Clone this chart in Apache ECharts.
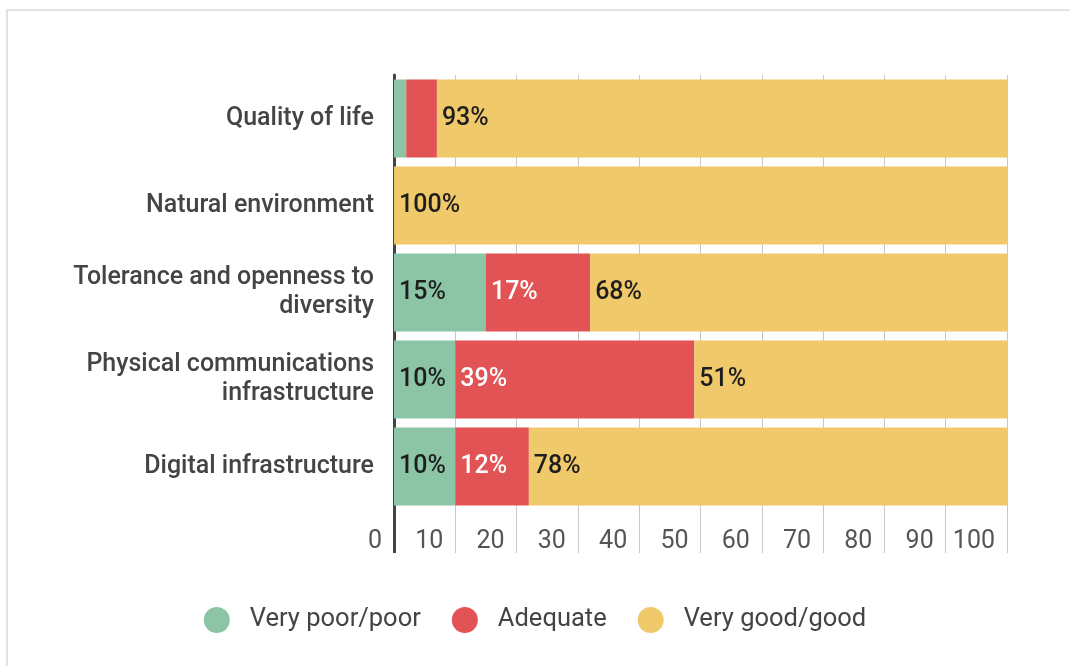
<!DOCTYPE html>
<html>
<head>
<meta charset="utf-8">
<title>Perceived quality of regional assets</title>
<script src="https://cdn.jsdelivr.net/npm/echarts@6/dist/echarts.min.js"></script>
<style>
  html, body { margin: 0; padding: 0; background: #fff; overflow: hidden; }
  #frame { position: absolute; left: 6px; top: 9px; width: 1100px; height: 700px; border: 2px solid #e3e3e3; box-sizing: border-box; }
  #chart { position: absolute; left: 0; top: 0; width: 1070px; height: 666px; }
</style>
</head>
<body>
<div id="frame"></div>
<div id="chart"></div>
<script>
// Survey categories, listed top to bottom
const categories = [
  'Quality of life',
  'Natural environment',
  'Tolerance and openness to\ndiversity',
  'Physical communications\ninfrastructure',
  'Digital infrastructure'
];
// Share of responses per rating (%)
const veryPoorPoor = [2, 0, 15, 10, 10];
const adequate = [5, 0, 17, 39, 12];
const veryGoodGood = [93, 100, 68, 51, 78];
// Value axis ticks
const axisMin = 0;
const axisMax = 100;
const axisStep = 10;

const FONT = 'Roboto, "Noto Sans", sans-serif';
const colors = { poor: '#8bc5a6', adequate: '#e15354', good: '#f0c96b' };

function pctLabel(p) {
  return p.value >= 8 ? p.value + '%' : '';
}

function makeSeries(name, data, color, labelColor) {
  return {
    name: name,
    type: 'bar',
    stack: 'total',
    data: data,
    barCategoryGap: '10.5%',
    itemStyle: { color: color },
    label: {
      show: true,
      position: 'insideLeft',
      distance: 5,
      formatter: pctLabel,
      color: labelColor,
      fontFamily: FONT,
      fontSize: 25,
      fontWeight: 500
    },
    emphasis: { disabled: true }
  };
}

const chart = echarts.init(document.getElementById('chart'), null, { renderer: 'canvas' });
chart.setOption({
  animation: false,
  textStyle: { fontFamily: FONT },
  grid: { left: 394, right: 63, top: 75, bottom: 156, containLabel: false },
  legend: {
    bottom: 28,
    left: 'center',
    icon: 'circle',
    itemWidth: 26,
    itemHeight: 30,
    itemGap: 31,
    textStyle: { fontFamily: FONT, fontSize: 25.5, color: '#444', padding: [0, 0, 0, 15] },
    data: ['Very poor/poor', 'Adequate', 'Very good/good']
  },
  xAxis: [
    {
      type: 'value',
      min: axisMin,
      max: axisMax,
      interval: axisStep,
      axisLine: { show: false },
      axisTick: { show: true, length: 43, lineStyle: { color: '#c8c8c8', width: 1 } },
      splitLine: { show: true, lineStyle: { color: '#c8c8c8', width: 1 } },
      axisLabel: {
        align: 'right',
        padding: [0, 12, 0, 0],
        margin: 19,
        fontFamily: FONT,
        fontSize: 25,
        color: '#555'
      }
    },
    {
      type: 'value',
      min: axisMin,
      max: axisMax,
      position: 'bottom',
      axisLine: { show: false },
      axisLabel: { show: false },
      splitLine: { show: false },
      axisTick: { show: true, length: 43, customValues: [axisMin], lineStyle: { color: '#444', width: 3 } }
    }
  ],
  yAxis: {
    type: 'category',
    inverse: true,
    data: categories,
    axisLine: { show: true, lineStyle: { color: '#444', width: 3 } },
    axisTick: { show: false },
    axisLabel: {
      margin: 20,
      fontFamily: FONT,
      fontSize: 25,
      fontWeight: 500,
      lineHeight: 29,
      color: '#444',
      align: 'right'
    }
  },
  series: [
    makeSeries('Very poor/poor', veryPoorPoor, colors.poor, '#1e1e1e'),
    makeSeries('Adequate', adequate, colors.adequate, '#ffffff'),
    makeSeries('Very good/good', veryGoodGood, colors.good, '#1e1e1e')
  ]
});
</script>
</body>
</html>
